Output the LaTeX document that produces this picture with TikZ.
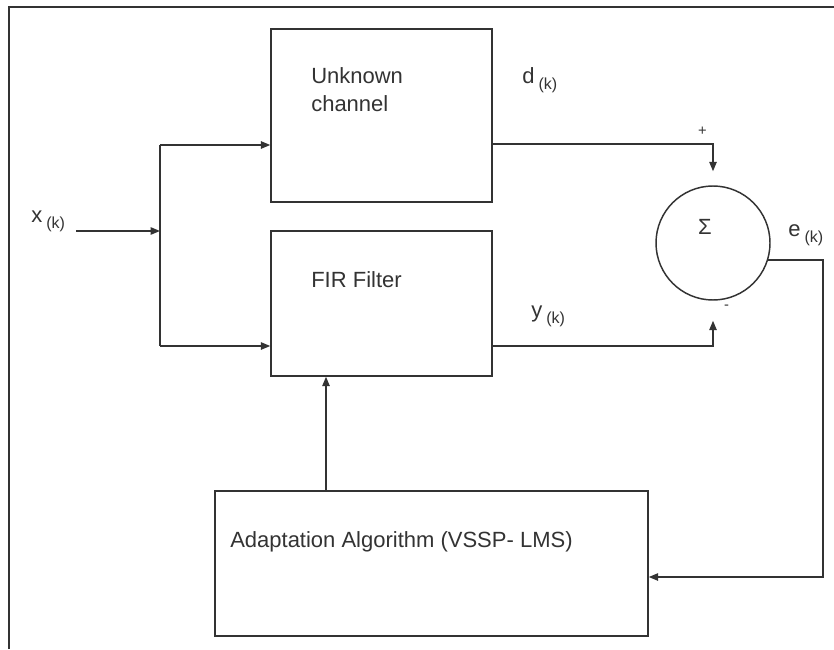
\documentclass[tikz,border=0pt]{standalone}
\usepackage{fontspec}
\setmainfont{Liberation Sans}
\usetikzlibrary{arrows.meta}
\definecolor{ink}{RGB}{51,51,51}
\newcommand{\idx}{\hspace{3pt}\raisebox{-4.5pt}{\fontsize{12}{14}\selectfont (k)}}

\begin{document}
\begin{tikzpicture}[x=0.75pt,y=-0.75pt,
  blk/.style={draw=ink,line width=1.1pt,inner sep=0pt},
  wire/.style={draw=ink,line width=1.1pt},
  sig/.style={wire,-{Triangle[length=7pt,width=5.5pt]}},
  lbl/.style={inner sep=0pt,anchor=base west,text=ink,font=\fontsize{16.5}{20}\selectfont},
  sgn/.style={inner sep=0pt,text=ink,font=\fontsize{11}{13}\selectfont}]

\useasboundingbox (0,0) rectangle (834,649);
\fill[white] (0,0) rectangle (834,649);

% Frame (cropped)
\draw[ink,line width=1.5pt] (9,649) -- (9,7) -- (834,7);

% Blocks
\node[blk,minimum width=165.75pt,minimum height=129.75pt] (unk) at (381.5,115.5) {};
\node[blk,minimum width=165.75pt,minimum height=108.75pt] (fir) at (381.5,303.5) {};
\node[blk,minimum width=324.75pt,minimum height=108.75pt] (ada) at (431.5,563.5) {};
\node[blk,circle,minimum size=85.5pt] (sum) at (713,243) {};

% Block texts
\node[lbl] (unk1) at (311,84) {Unknown};
\node[lbl] (unk2) at (311,112) {channel};
\node[lbl] (firtxt) at (311,287) {FIR Filter};
\node[lbl] (adatxt) at (230,547) {Adaptation Algorithm (VSSP- LMS)};
\node[lbl,anchor=center] (sigma) at (705,227) {Σ};

% Signal labels
\node[lbl] (xk) at (31,222) {x\idx};
\node[lbl] (dk) at (522,84) {d\idx};
\node[lbl] (yk) at (531,317) {y\idx};
\node[lbl] (ek) at (788,236) {e\idx};
\node[sgn] (plus) at (702.5,131.5) {+};
\node[sgn] (minus) at (726.5,307) {-};

% Input branch
\coordinate (xin) at (76,231);
\coordinate (split) at (160,231);
\coordinate (up) at (160,145);
\coordinate (dn) at (160,346);
\draw[sig] (xin) -- (split);
\draw[wire] (up) -- (dn);
\draw[sig] (up) -- (up -| unk.west);
\draw[sig] (dn) -- (dn -| fir.west);

% Outputs to the summer
\draw[sig,shorten >=10.5pt] (unk.east |- 0,144) -| (sum.north);
\draw[sig,shorten >=15pt] (fir.east |- 0,346) -| (sum.south);

% Error feedback
\coordinate (fb) at (823,577);
\draw[sig] (sum.-17) -| (fb) -- (fb -| ada.east);

% Weight update
\draw[sig] (ada.north -| 326,0) -- (fir.south -| 326,0);

\end{tikzpicture}
\end{document}
